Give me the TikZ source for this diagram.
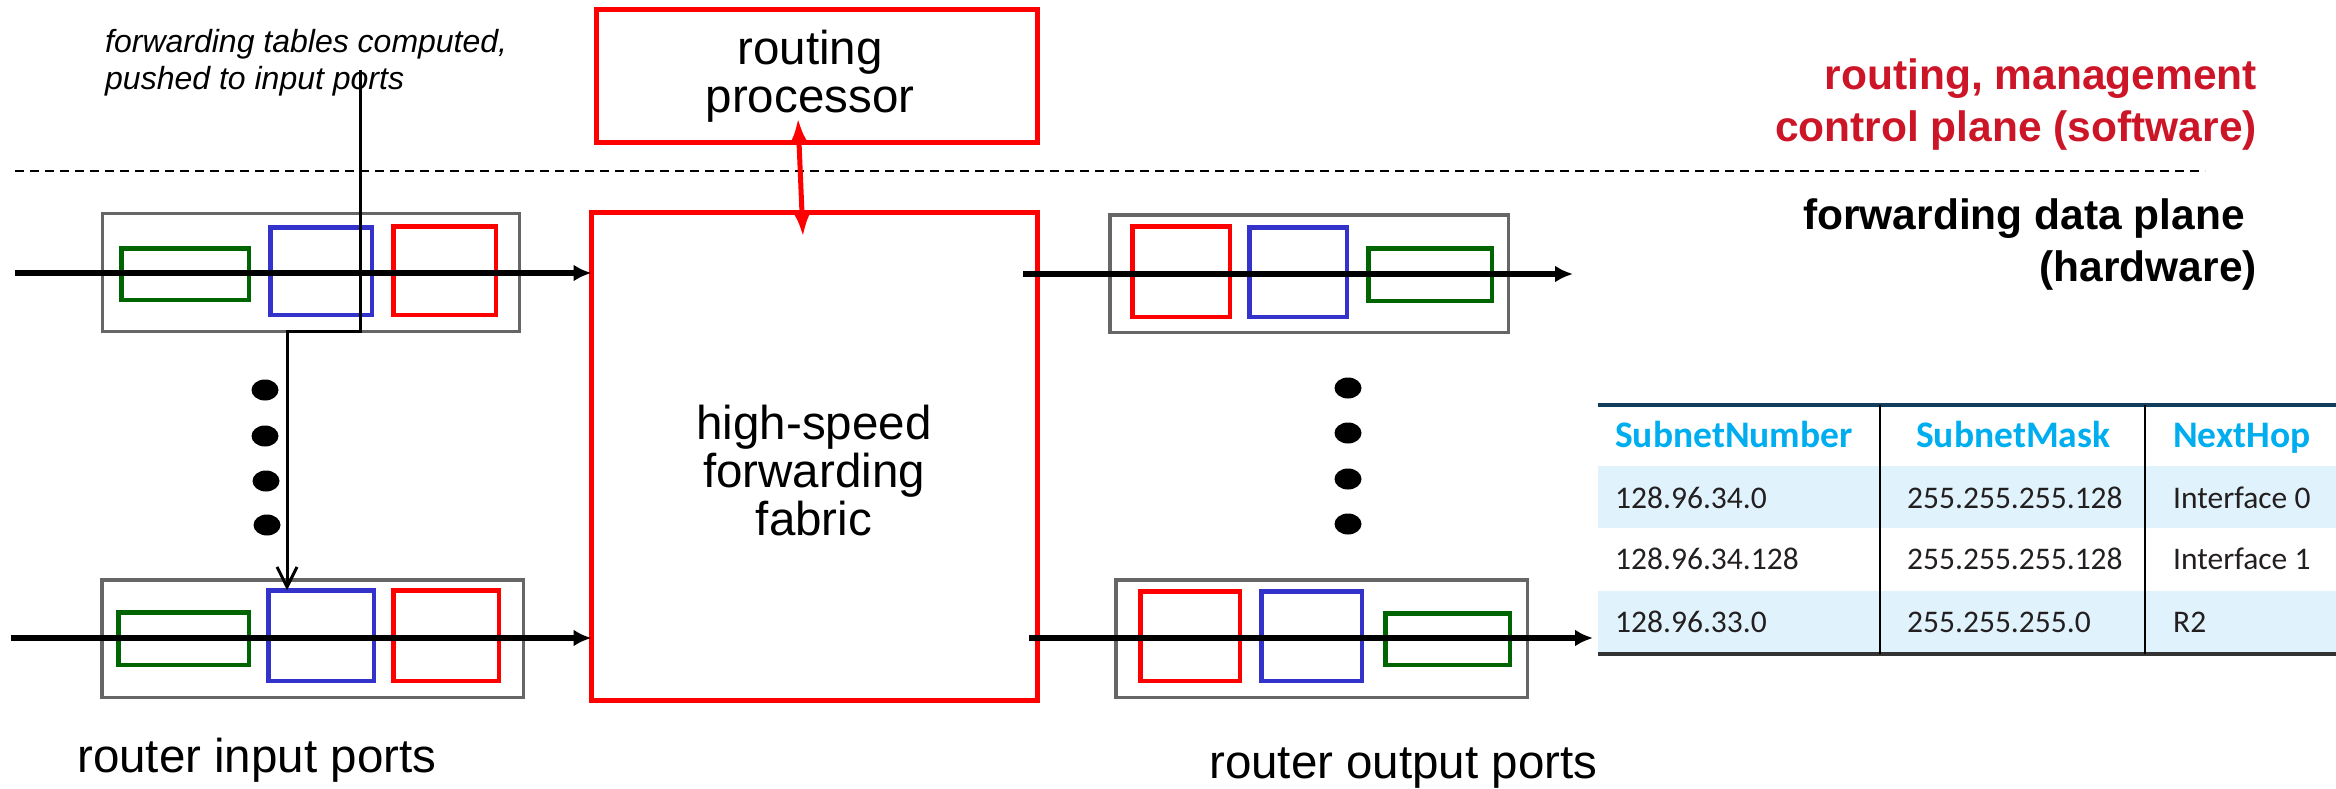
\documentclass[tikz,border=0pt]{standalone}
\usepackage{fontspec}
\setmainfont{Liberation Sans}
\newfontfamily\tablefont{Carlito}
\usetikzlibrary{arrows.meta}

\definecolor{portred}{RGB}{255,0,0}
\definecolor{portblue}{RGB}{51,51,204}
\definecolor{portgreen}{RGB}{0,100,0}
\definecolor{portgray}{RGB}{102,102,102}
\definecolor{ctrlred}{RGB}{204,22,40}
\definecolor{headcyan}{RGB}{0,174,239}
\definecolor{rowblue}{RGB}{224,242,252}
\definecolor{tabtop}{RGB}{18,62,92}
\definecolor{cellink}{RGB}{35,31,32}

\tikzset{
  bigbox/.style={draw=portred, line width=5pt, inner sep=0pt, outer sep=0pt},
  portbox/.style={draw=portgray, line width=3.5pt, inner sep=0pt, outer sep=0pt},
  qbox/.style={line width=4.5pt, inner sep=0pt, outer sep=0pt},
  flow/.style={line width=5.5pt, -{Latex[length=18pt,width=17pt]}},
  ctrl/.style={draw=portred, line width=5pt, {Latex[length=24pt,width=17pt]}-{Latex[length=24pt,width=17pt]}},
  push/.style={line width=3pt, -{Straight Barb[length=20pt,width=20pt]}},
  plane/.style={line width=2pt, dash pattern=on 9pt off 6pt},
  lbl/.style={font=\fontsize{47.5}{48}\selectfont, inner sep=0pt, align=center},
  note/.style={font=\itshape\fontsize{32}{37}\selectfont, inner sep=0pt, align=left},
  plabel/.style={font=\bfseries\fontsize{42.5}{52}\selectfont, inner sep=0pt, align=right},
  thead/.style={font=\tablefont\bfseries\fontsize{37.5}{37.5}\selectfont, text=headcyan, inner sep=0pt},
  tcell/.style={font=\tablefont\fontsize{31.5}{31.5}\selectfont, text=cellink, inner sep=0pt}
}

\begin{document}
\begin{tikzpicture}[x=1pt, y=-1pt]
\useasboundingbox (0,0) rectangle (2336,789);

% control plane / data plane divider
\draw[plane] (15,171) -- (2205,171);

% routing processor and switching fabric
\node[bigbox, minimum width=441, minimum height=133] (rp) at (817,76) {};
\node[bigbox, minimum width=446, minimum height=488] (fab) at (814.5,456.5) {};
\node[lbl, anchor=base] (rpText) at (810,113) {routing\\processor};
\node[lbl, anchor=base] (fabText) at (814,535) {high-speed\\forwarding\\fabric};

\coordinate (rpTip) at (798,118);
\coordinate (fabTip) at (803,237);
\draw[ctrl] (rpTip) -- (fabTip);

% input ports
\node[portbox, minimum width=417, minimum height=118] (in1) at (311,272.5) {};
\node[qbox, draw=portgreen, minimum width=127.5, minimum height=51.5] (in1g) at (185,274) {};
\node[qbox, draw=portblue, minimum width=101.5, minimum height=87.5] (in1b) at (321,271) {};
\node[qbox, draw=portred, minimum width=102.5, minimum height=88.5] (in1r) at (444.5,270.5) {};

\node[portbox, minimum width=421.5, minimum height=117.5] (in2) at (312.5,638.5) {};
\node[qbox, draw=portgreen, minimum width=130.5, minimum height=52.5] (in2g) at (183.5,638.5) {};
\node[qbox, draw=portblue, minimum width=105.5, minimum height=90.5] (in2b) at (321,635.5) {};
\node[qbox, draw=portred, minimum width=105.5, minimum height=90.5] (in2r) at (446,635.5) {};

% output ports
\node[portbox, minimum width=398.5, minimum height=117.5] (out1) at (1309,273.5) {};
\node[qbox, draw=portred, minimum width=97.5, minimum height=90.5] (out1r) at (1181,271.5) {};
\node[qbox, draw=portblue, minimum width=97.5, minimum height=89.5] (out1b) at (1298,272) {};
\node[qbox, draw=portgreen, minimum width=123.5, minimum height=52.5] (out1g) at (1430,274.5) {};

\node[portbox, minimum width=411.5, minimum height=117.5] (out2) at (1321.5,638.5) {};
\node[qbox, draw=portred, minimum width=99.5, minimum height=89.5] (out2r) at (1190,636) {};
\node[qbox, draw=portblue, minimum width=100.5, minimum height=89.5] (out2b) at (1311.5,636) {};
\node[qbox, draw=portgreen, minimum width=124.5, minimum height=51.5] (out2g) at (1447.5,639) {};

% datagram flow
\coordinate (in1Src) at (15,273);
\coordinate (in2Src) at (11,638);
\coordinate (out1Src) at (1023,274);
\coordinate (out1Dst) at (1573,274);
\coordinate (out2Src) at (1029,638);
\coordinate (out2Dst) at (1593,638);
\draw[flow] (in1Src) -- (in1Src -| fab.west);
\draw[flow] (in2Src) -- (in2Src -| fab.west);
\draw[flow] (out1Src) -- (out1Dst);
\draw[flow] (out2Src) -- (out2Dst);

% more ports
\fill (265,390) ellipse [x radius=13.5, y radius=10.5];
\fill (265,436) ellipse [x radius=13.5, y radius=10.5];
\fill (266,481) ellipse [x radius=13.5, y radius=10.5];
\fill (267,525) ellipse [x radius=13.5, y radius=10.5];
\fill (1348,388) ellipse [x radius=13.5, y radius=10.5];
\fill (1348,433) ellipse [x radius=13.5, y radius=10.5];
\fill (1348,479) ellipse [x radius=13.5, y radius=10.5];
\fill (1348,524) ellipse [x radius=13.5, y radius=10.5];

% tables pushed down to the ports
\node[note, anchor=base west] (pushNote) at (105,90) {forwarding tables computed,\\pushed to input ports};
\coordinate (pushTop) at (360,70);
\coordinate (pushBend) at (287,331);
\draw[push] (pushTop) |- (pushBend) -- (pushBend |- in2b.north);

% plane labels
\node[plabel, text=ctrlred, anchor=base east] (ctrlLbl) at (2257,142) {routing, management\\control plane (software)};
\node[plabel, anchor=base east] (dataLbl) at (2257,281) {forwarding data plane\hspace*{12pt}\\(hardware)};

\node[lbl, anchor=base west] (inLbl) at (77,772) {router input ports};
\node[lbl, anchor=base west] (outLbl) at (1209,778) {router output ports};

% forwarding table
\fill[rowblue] (1598,466) rectangle (2336,528);
\fill[rowblue] (1598,591) rectangle (2336,654);
\draw[tabtop, line width=3.5pt] (1598,405) -- (2336,405);
\draw[black!80, line width=3.5pt] (1598,654) -- (2336,654);
\draw[line width=2.5pt] (1880,405) -- (1880,654);
\draw[line width=2.5pt] (2145,405) -- (2145,654);

\node[thead, anchor=base west] (hNum) at (1615,447) {SubnetNumber};
\node[thead, anchor=base west] (hMask) at (1916,447) {SubnetMask};
\node[thead, anchor=base west] (hHop) at (2173,447) {NextHop};

\node[tcell, anchor=base west] (num1) at (1615,508) {128.96.34.0};
\node[tcell, anchor=base west] (mask1) at (1907,508) {255.255.255.128};
\node[tcell, anchor=base west] (hop1) at (2173,508) {Interface 0};
\node[tcell, anchor=base west] (num2) at (1615,569) {128.96.34.128};
\node[tcell, anchor=base west] (mask2) at (1907,569) {255.255.255.128};
\node[tcell, anchor=base west] (hop2) at (2173,569) {Interface 1};
\node[tcell, anchor=base west] (num3) at (1615,632) {128.96.33.0};
\node[tcell, anchor=base west] (mask3) at (1907,632) {255.255.255.0};
\node[tcell, anchor=base west] (hop3) at (2173,632) {R2};
\end{tikzpicture}
\end{document}
